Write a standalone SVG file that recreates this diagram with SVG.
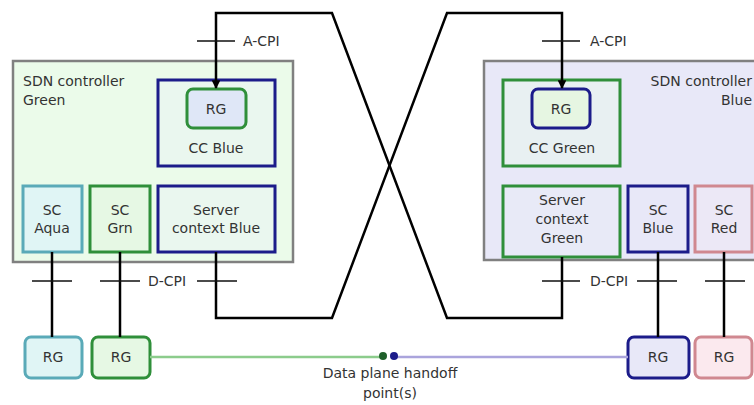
<svg xmlns="http://www.w3.org/2000/svg" width="754" height="405" viewBox="0 0 754 405">
<defs>
<marker id="arr" viewBox="0 0 10 10" refX="9" refY="5" markerWidth="3.5" markerHeight="3.5" orient="auto" markerUnits="strokeWidth">
<path d="M0,0 L10,5 L0,10 z" fill="#000"/>
</marker>
</defs>
<style>
text{font-family:"DejaVu Sans","Liberation Sans",sans-serif;font-size:14px;fill:#333;text-anchor:middle}
.ctrl{stroke:#808080;stroke-width:2.5}
.box{stroke-width:3}
.blue{stroke:#1c1c8a}
.green{stroke:#2f8f3a}
.aqua{stroke:#5aaab8}
.red{stroke:#d08890}
.conn{fill:none;stroke:#000;stroke-width:2.5}
.tick{fill:none;stroke:#111;stroke-width:1.5}
</style>
<rect width="754" height="405" fill="#fff"/>

<g id="ctrl-green">
<rect class="ctrl" x="13" y="61" width="280" height="201" fill="#ebfbea"/>
<text x="23" y="86" style="text-anchor:start">SDN controller</text>
<text x="23" y="105" style="text-anchor:start">Green</text>
</g>
<g id="ctrl-blue">
<rect class="ctrl" x="484" y="61" width="290" height="199" fill="#e8e8f8"/>
<text x="752" y="86" style="text-anchor:end">SDN controller</text>
<text x="752" y="105" style="text-anchor:end">Blue</text>
</g>

<g id="cc-blue">
<rect class="box blue" x="158" y="80" width="117" height="86" fill="#eaf7ef"/>
<text x="216" y="153">CC Blue</text>
</g>
<g id="rg-ccblue">
<rect class="box green" x="187" y="89" width="59" height="39" rx="6" fill="#dfe7f7"/>
<text x="216" y="114">RG</text>
</g>
<g id="cc-green">
<rect class="box green" x="503" y="80" width="117" height="86" fill="#e8f0f2"/>
<text x="562" y="153">CC Green</text>
</g>
<g id="rg-ccgreen">
<rect class="box blue" x="532" y="89" width="58" height="39" rx="6" fill="#e6f6e2"/>
<text x="561" y="114">RG</text>
</g>

<g id="sc-aqua">
<rect class="box aqua" x="23" y="186" width="59" height="66" fill="#e0f5f5"/>
<text x="52" y="215">SC</text>
<text x="52" y="233">Aqua</text>
</g>
<g id="sc-grn">
<rect class="box green" x="90" y="186" width="60" height="66" fill="#e6f8e4"/>
<text x="120" y="215">SC</text>
<text x="120" y="233">Grn</text>
</g>
<g id="server-blue">
<rect class="box blue" x="158" y="186" width="117" height="66" fill="#eaf7ef"/>
<text x="216" y="215">Server</text>
<text x="216" y="233">context Blue</text>
</g>
<g id="server-green">
<rect class="box green" x="503" y="186" width="117" height="71" fill="#e8eaf7"/>
<text x="562" y="205">Server</text>
<text x="562" y="224">context</text>
<text x="562" y="243">Green</text>
</g>
<g id="sc-blue">
<rect class="box blue" x="628" y="186" width="60" height="66" fill="#e8e8f8"/>
<text x="658" y="215">SC</text>
<text x="658" y="233">Blue</text>
</g>
<g id="sc-red">
<rect class="box red" x="695" y="186" width="57" height="66" fill="#ece8f6"/>
<text x="724" y="215">SC</text>
<text x="724" y="233">Red</text>
</g>

<g id="rg-aqua">
<rect class="box aqua" x="25" y="337" width="57" height="41" rx="6" fill="#e0f5f5"/>
<text x="53" y="362">RG</text>
</g>
<g id="rg-green">
<rect class="box green" x="92" y="337" width="58" height="41" rx="6" fill="#e6f8e4"/>
<text x="121" y="362">RG</text>
</g>
<g id="rg-blue">
<rect class="box blue" x="628" y="337" width="61" height="41" rx="6" fill="#e8e8f8"/>
<text x="658" y="362">RG</text>
</g>
<g id="rg-red">
<rect class="box red" x="695" y="337" width="57" height="41" rx="6" fill="#fbe9ee"/>
<text x="724" y="362">RG</text>
</g>

<g id="connectors">
<path class="conn" d="M562,257 V318 H447 L332,13 H216 V88" marker-end="url(#arr)"/>
<path class="conn" d="M216,252 V318 H332 L447,13 H562 V88" marker-end="url(#arr)"/>
<path class="conn" d="M52,252 V337"/>
<path class="conn" d="M120,252 V337"/>
<path class="conn" d="M658,252 V337"/>
<path class="conn" d="M724,252 V337"/>
<path class="tick" d="M197,41 H235 M542,41 H580"/>
<path class="tick" d="M32,281 H72 M100,281 H140 M197,281 H237 M542,281 H580 M637,281 H677 M705,281 H745"/>
<line x1="150" y1="357" x2="386" y2="357" stroke="#8ccc8c" stroke-width="2.5"/>
<line x1="392" y1="357" x2="628" y2="357" stroke="#aaa4dc" stroke-width="2.5"/>
<circle cx="383" cy="356" r="4" fill="#1f5f2a"/>
<circle cx="394" cy="356" r="4" fill="#1c1c8a"/>
</g>

<g id="labels">
<text x="243" y="46" style="text-anchor:start">A-CPI</text>
<text x="590" y="46" style="text-anchor:start">A-CPI</text>
<text x="167" y="286">D-CPI</text>
<text x="609" y="286">D-CPI</text>
<text x="390" y="378">Data plane handoff</text>
<text x="390" y="398">point(s)</text>
</g>
</svg>
